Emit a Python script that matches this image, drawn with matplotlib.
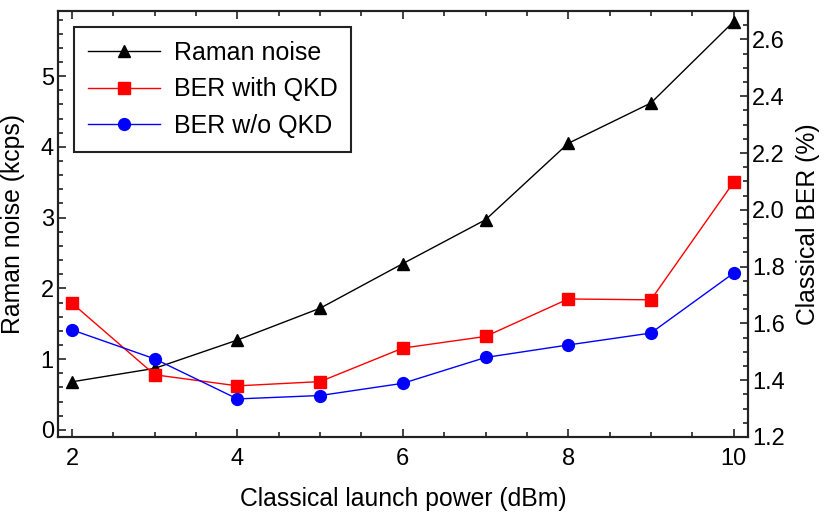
import matplotlib
matplotlib.use("Agg")
import matplotlib.pyplot as plt
from matplotlib.ticker import MultipleLocator

plt.rcParams['font.family'] = ['Liberation Sans', 'DejaVu Sans']

# data
power = [2, 3, 4, 5, 6, 7, 8, 9, 10]
raman = [0.68, 0.87, 1.27, 1.72, 2.35, 2.97, 4.05, 4.62, 5.77]
ber_qkd = [1.671, 1.419, 1.380, 1.395, 1.513, 1.554, 1.686, 1.683, 2.097]
ber_noqkd = [1.577, 1.475, 1.334, 1.346, 1.389, 1.480, 1.524, 1.566, 1.777]

fig = plt.figure(figsize=(8.3, 5.15), dpi=100)
ax1 = fig.add_axes([0.0699, 0.1515, 0.8309, 0.8271])
ax2 = ax1.twinx()

l1, = ax1.plot(power, raman, color='black', lw=1, marker='^', ms=9, label='Raman noise')
l2, = ax2.plot(power, ber_qkd, color='red', lw=1, marker='s', ms=8, label='BER with QKD')
l3, = ax2.plot(power, ber_noqkd, color='blue', lw=1, marker='o', ms=8.5, label='BER w/o QKD')

ax1.set_xlim(1.83, 10.17)
ax1.set_ylim(-0.1, 5.92)
ax2.set_ylim(1.2, 2.70)

ax1.xaxis.set_major_locator(MultipleLocator(2))
ax1.xaxis.set_minor_locator(MultipleLocator(0.5))
ax1.yaxis.set_major_locator(MultipleLocator(1))
ax1.yaxis.set_minor_locator(MultipleLocator(0.2))
ax2.yaxis.set_major_locator(MultipleLocator(0.2))
ax2.yaxis.set_minor_locator(MultipleLocator(0.05))
ax2.yaxis.set_major_formatter(plt.FormatStrFormatter('%.1f'))

ax1.tick_params(which='both', direction='in', top=True, right=False, labelsize=17, color='#222222', width=1.2)
ax1.tick_params(which='major', length=6)
ax1.tick_params(which='minor', length=3.5)
ax1.tick_params(axis='x', pad=8)
ax1.tick_params(axis='y', pad=3)
ax2.tick_params(which='both', direction='in', labelsize=17, color='#222222', width=1.2, pad=3)
ax2.tick_params(which='major', length=6)
ax2.tick_params(which='minor', length=3.5)

for ax in (ax1, ax2):
    for s in ax.spines.values():
        s.set_linewidth(1.5)
        s.set_color('#222222')

ax1.set_xlabel('Classical launch power (dBm)', fontsize=17.8, labelpad=12)
ax1.set_ylabel('Raman noise (kcps)', fontsize=17.8, labelpad=11)
ax2.set_ylabel('Classical BER (%)', fontsize=17.8, labelpad=8)

leg = ax2.legend(handles=[l1, l2, l3], loc='upper left', bbox_to_anchor=(0.023, 0.962),
                 borderaxespad=0, fancybox=False, fontsize=18, handlelength=2.9,
                 handletextpad=0.55, borderpad=0.55, labelspacing=0.5,
                 edgecolor='#222222', framealpha=1)
leg.get_frame().set_linewidth(1.5)

fig.savefig('out.png', dpi=100)
